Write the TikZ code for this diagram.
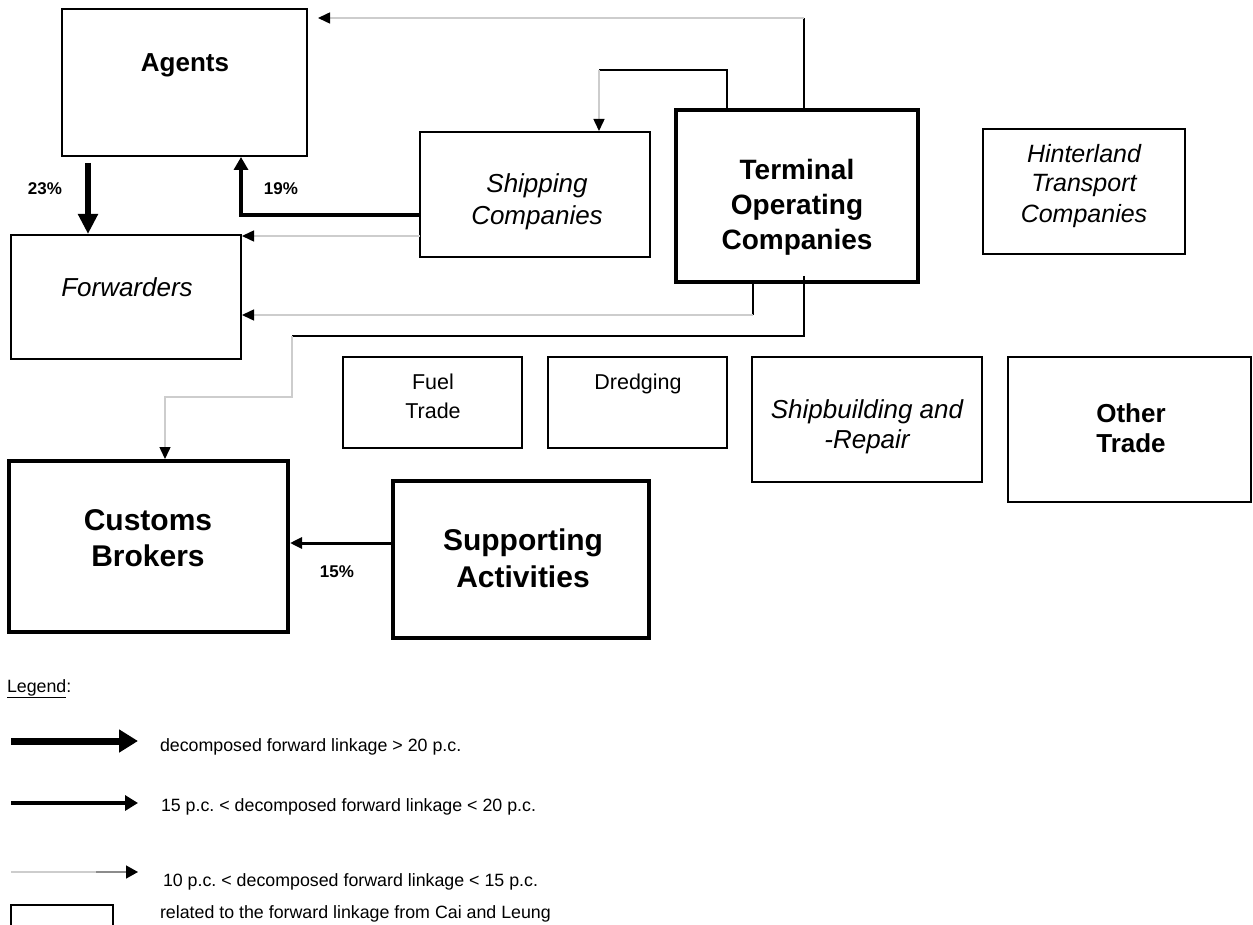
\documentclass[tikz,border=0pt]{standalone}
\usepackage{fontspec}
\setmainfont{Liberation Sans}
\usetikzlibrary{arrows.meta,calc}
\definecolor{faintgrey}{HTML}{CDCDCD}
\frenchspacing
\begin{document}
\begin{tikzpicture}[x=1pt,y=-1pt,
  box/.style={draw=black,line width=1.6pt,inner sep=0pt,outer sep=0pt},
  heavybox/.style={box,line width=4pt},
  word/.style={inner sep=0pt,outer sep=0pt,anchor=base},
  boldlbl/.style={word,font=\fontsize{26}{30}\selectfont\bfseries},
  biglbl/.style={word,font=\fontsize{30}{36}\selectfont\bfseries},
  termlbl/.style={word,font=\fontsize{28}{34}\selectfont\bfseries},
  itlbl/.style={word,font=\fontsize{26}{30}\selectfont\itshape},
  smallitlbl/.style={word,font=\fontsize{25}{30}\selectfont\itshape},
  plainlbl/.style={word,font=\fontsize{21.5}{26}\selectfont},
  pct/.style={word,font=\fontsize{17}{20}\selectfont\bfseries},
  legtext/.style={inner sep=0pt,outer sep=0pt,anchor=base west,font=\fontsize{17.8}{21}\selectfont},
  lead/.style={line width=1.5pt,draw=black},
  faint/.style={line width=1.5pt,draw=faintgrey},
  tipthin/.style={-{Triangle[length=12pt,width=11pt,color=black]}},
]
\clip (0,0) rectangle (1253,925);
\fill[white] (0,0) rectangle (1253,925);

% ---------- boxes ----------
\node[box, minimum width=245pt, minimum height=147pt] (agents) at (184.5,82.5) {};
\node[box, minimum width=230pt, minimum height=124pt] (fwd) at (126,297) {};
\node[box, minimum width=230pt, minimum height=125pt] (ship) at (535,194.5) {};
\node[heavybox, minimum width=242pt, minimum height=172pt] (term) at (797,196) {};
\node[box, minimum width=202pt, minimum height=125pt] (hint) at (1084,191.5) {};
\node[box, minimum width=179pt, minimum height=91pt] (fuel) at (432.5,402.5) {};
\node[box, minimum width=179pt, minimum height=91pt] (dredge) at (637.5,402.5) {};
\node[box, minimum width=230pt, minimum height=125pt] (shipb) at (867,419.5) {};
\node[box, minimum width=243pt, minimum height=145pt] (other) at (1129.5,429.5) {};
\node[heavybox, minimum width=279pt, minimum height=171pt] (customs) at (148.5,546.5) {};
\node[heavybox, minimum width=256pt, minimum height=157pt] (support) at (521,559.5) {};

% ---------- box labels ----------
\node[boldlbl] (agents-t) at (185,72) {Agents};
\node[itlbl] (fwd-t) at (127,297) {Forwarders};
\node[itlbl] (ship-t1) at (537,193) {Shipping};
\node[itlbl] (ship-t2) at (537,225) {Companies};
\node[termlbl] (term-t1) at (797,180) {Terminal};
\node[termlbl] (term-t2) at (797,215) {Operating};
\node[termlbl] (term-t3) at (797,250) {Companies};
\node[smallitlbl] (hint-t1) at (1084,163) {Hinterland};
\node[smallitlbl] (hint-t2) at (1084,192) {Transport};
\node[smallitlbl] (hint-t3) at (1084,223) {Companies};
\node[plainlbl] (fuel-t1) at (433,389) {Fuel};
\node[plainlbl] (fuel-t2) at (433,418) {Trade};
\node[plainlbl] (dredge-t) at (638,389) {Dredging};
\node[itlbl] (shipb-t1) at (867,418) {Shipbuilding and};
\node[itlbl] (shipb-t2) at (867,448) {-Repair};
\node[boldlbl] (other-t1) at (1131,422) {Other};
\node[boldlbl] (other-t2) at (1131,452) {Trade};
\node[biglbl] (customs-t1) at (148,530) {Customs};
\node[biglbl] (customs-t2) at (148,566) {Brokers};
\node[biglbl] (support-t1) at (523,550) {Supporting};
\node[biglbl] (support-t2) at (523,587) {Activities};

% ---------- linkages ----------
% Agents -> Forwarders (23%)
\draw[line width=6.5pt,-{Triangle[length=20pt,width=19pt]}]
  ($(agents.south west)+(26,7)$) -- ($(fwd.north west)+(77,-1)$);
\node[pct] (p23) at (45,195) {23\%};

% Shipping Companies -> Agents (19%)
\draw[line width=4.5pt,-{Triangle[length=13pt,width=14pt]}]
  ($(ship.south west)+(0,-42)$) -| ($(agents.south west)+(179,1)$);
\node[pct] (p19) at (281,195) {19\%};

% Shipping Companies -> Forwarders
\coordinate (sf0) at ($(ship.south west)+(0,-21)$);
\draw[faint,tipthin] (sf0) -- ($(sf0 -| fwd.east)+(1,0)$);

% Terminal -> Forwarders
\coordinate (tf0) at ($(term.south west)+(77,0)$);
\coordinate (tf1) at ($(tf0)+(0,33)$);
\draw[lead] (tf0) -- (tf1);
\draw[faint,tipthin] (tf1) -- ($(tf1 -| fwd.east)+(1,0)$);

% Terminal -> Customs Brokers
\coordinate (tc0) at ($(term.south west)+(128,-6)$);
\coordinate (tc2) at (292,336);
\coordinate (tc3) at (165,397);
\draw[lead] (tc0) |- (tc2);
\draw[faint,tipthin] (tc2) |- (tc3) -- ($(tc3 |- customs.north)+(0,-2)$);

% Terminal -> Agents
\coordinate (ta0) at ($(term.north west)+(128,0)$);
\coordinate (ta1) at ($(agents.north east)+(0,9)$);
\draw[lead] (ta0) -- (ta0 |- ta1);
\draw[faint,tipthin,shorten >=11pt] (ta0 |- ta1) -- (ta1);

% Terminal -> Shipping Companies
\coordinate (ts0) at ($(term.north west)+(51,0)$);
\coordinate (ts2) at ($(ship.north west)+(179,-1)$);
\coordinate (ts1) at ($(ts2)+(0,-61)$);
\draw[lead] (ts0) |- (ts1);
\draw[faint,tipthin] (ts1) -- (ts2);

% Supporting Activities -> Customs Brokers (15%)
\draw[line width=3pt,-{Triangle[length=12pt,width=11pt]},shorten >=2pt]
  ($(support.south west)+(0,-95)$) coordinate (sc0) -- (sc0 -| customs.east);
\node[pct] (p15) at (337,577) {15\%};

% ---------- legend ----------
\node[legtext] (leg) at (7,692) {\underline{Legend}:};

\coordinate (r1a) at (11,741);
\coordinate (r1b) at (138,741);
\draw[line width=7pt,-{Triangle[length=19pt,width=22pt]}] (r1a) -- (r1b);
\node[legtext] (leg1) at (160,751) {decomposed forward linkage > 20 p.c.};

\coordinate (r2a) at (11,803);
\coordinate (r2b) at (138,803);
\draw[line width=4pt,-{Triangle[length=13pt,width=15pt]}] (r2a) -- (r2b);
\node[legtext] (leg2) at (161,811) {15 p.c. < decomposed forward linkage < 20 p.c.};

\coordinate (r3a) at (11,872);
\coordinate (r3b) at (138,872);
\draw[faint,-{Triangle[length=12pt,width=13pt,color=black]}] (r3a) -- (r3b);
\draw[line width=1.5pt,draw=black!45] (96,872) -- (126,872);
\node[legtext] (leg3) at (163,886) {10 p.c. < decomposed forward linkage < 15 p.c.};

\node[box,line width=2pt,minimum width=102pt,minimum height=40pt,anchor=north west] (legbox) at (11,905) {};
\node[legtext] (leg4) at (160,918) {related to the forward linkage from Cai and Leung};
\end{tikzpicture}
\end{document}
